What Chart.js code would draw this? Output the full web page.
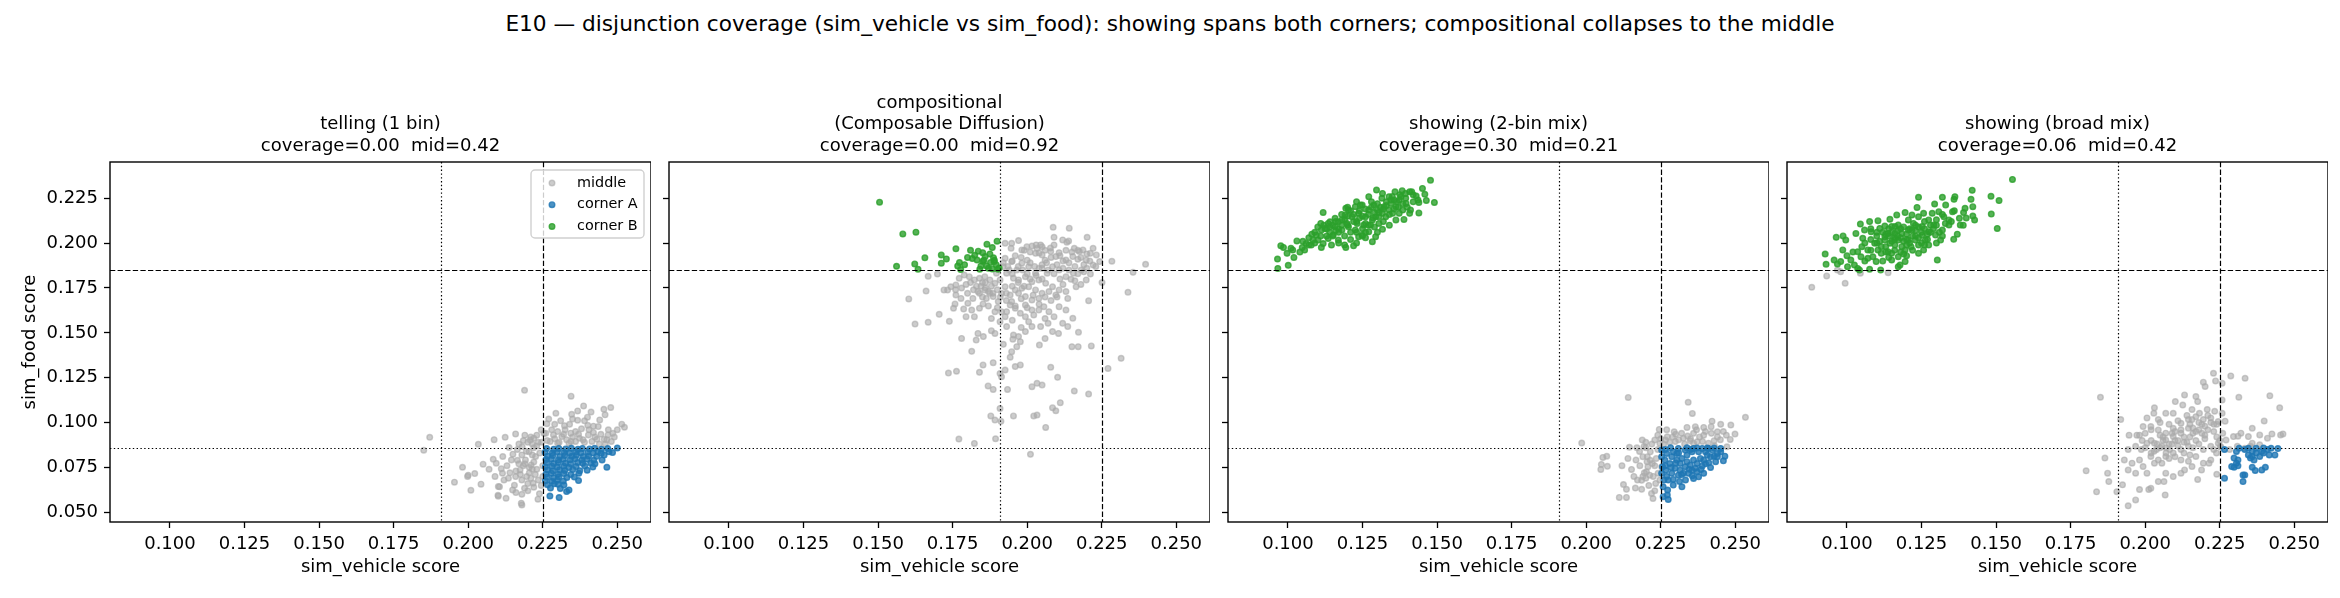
<!DOCTYPE html>
<html><head><meta charset="utf-8">
<script src="https://cdn.jsdelivr.net/npm/chart.js@4.4.0/dist/chart.umd.min.js"></script>
<style>
html,body{margin:0;padding:0;background:#fff;}
body{width:2340px;height:598px;position:relative;overflow:hidden;font-family:"DejaVu Sans",sans-serif;}
#suptitle{position:absolute;left:0;top:11px;width:2340px;text-align:center;font-size:21.67px;line-height:26px;color:#000;white-space:nowrap;}
.pane{position:absolute;top:0;height:598px;}
canvas{display:block;}
</style></head><body>
<div id="suptitle">E10 — disjunction coverage (sim_vehicle vs sim_food): showing spans both corners; compositional collapses to the middle</div>
<div class="pane" id="p0"><canvas id="c0"></canvas></div>
<div class="pane" id="p1"><canvas id="c1"></canvas></div>
<div class="pane" id="p2"><canvas id="c2"></canvas></div>
<div class="pane" id="p3"><canvas id="c3"></canvas></div>
<script>
// ---------- text / ticks ----------
const panelTitles = [
  ["telling (1 bin)", "coverage=0.00  mid=0.42"],
  ["compositional", "(Composable Diffusion)", "coverage=0.00  mid=0.92"],
  ["showing (2-bin mix)", "coverage=0.30  mid=0.21"],
  ["showing (broad mix)", "coverage=0.06  mid=0.42"]
];
const seriesNames = ["middle", "corner A", "corner B"];
const xLabel = "sim_vehicle score";
const yLabel = "sim_food score";
const xTicks = [0.100, 0.125, 0.150, 0.175, 0.200, 0.225, 0.250];
const yTicks = [0.050, 0.075, 0.100, 0.125, 0.150, 0.175, 0.200, 0.225];
const xLimits = [0.0799, 0.2613];
const yLimits = [0.0446, 0.2452];
const vLines = [0.191, 0.225];   // dotted, dashed
const hLines = [0.185, 0.086];   // dashed, dotted

// ---------- data: telling (1 bin) ----------
const tellingMiddle = [
[.2189,.1180],[.2345,.1147],[.1871,.0918],[.1851,.0846],[.2034,.0879],[.1954,.0668],[.1981,.0751],[.2009,.0623],[.2000,.0707],[.2022,.0716],[.2043,.0657],[.2050,.0768],[.2087,.0905],[.2100,.0595],[.2127,.0578],[.2178,.0551],[.2180,.0541],[.2124,.0918],[.2159,.0937],[.2137,.0861],[.2150,.0824],
[.2084,.0795],[.2094,.0773],[.2111,.0743],[.2101,.0644],[.2101,.0590],[.2116,.0811],[.1998,.0700],
[.2264,.0994],[.2294,.1052],[.2323,.0983],[.2347,.1046],[.2387,.1093],[.2367,.1065],[.2412,.1059],[.2455,.1074],[.2478,.1084],[.2459,.1043],[.2515,.0991],[.2524,.0974],[.2401,.0985],[.2367,.1013],[.2441,.1015],[.2436,.0978],[.2469,.0931],[.2456,.0907],[.2286,.0931],[.2254,.0941],[.2208,.0903],[.2220,.0913],[.2246,.0890],[.2314,.0922],[.2344,.0941],[.2373,.0913],[.2403,.0931],[.2432,.0907],[.2338,.0885],[.2300,.0885],
[.2181,.0866],[.2192,.0792],[.2174,.0736],[.2196,.0699],[.2159,.0699],[.2218,.0662],[.2189,.0634],[.2155,.0651],[.2234,.0573],[.2239,.0603],[.2211,.0764],[.2226,.0811],[.2204,.0838],[.2145,.0792],[.2115,.0718],[.2105,.0643],[.2149,.0625],
[.2230,.0870],[.2215,.0880],[.2200,.0890],[.2185,.0900],[.2170,.0880],[.2165,.0850],[.2195,.0840],[.2215,.0820],[.2220,.0780],[.2205,.0750],[.2185,.0760],[.2170,.0770],[.2230,.0740],[.2225,.0710],[.2210,.0690],[.2235,.0680],[.2220,.0640],[.2200,.0660],[.2180,.0680],[.2245,.0650],[.2250,.0700],[.2250,.0760],[.2240,.0830],[.2265,.0900],[.2280,.0960],[.2300,.0950],[.2320,.0935],[.2330,.0905],[.2360,.0895],[.2360,.0950],[.2380,.0965],[.2390,.0890],[.2420,.0945],[.2415,.0895],[.2440,.0880],[.2460,.0880],[.2480,.0895],[.2490,.0920],[.2470,.0960],[.2340,.0990],[.2310,.1010],[.2270,.1020],[.2400,.1030],[.2350,.0920],
[.2070,.0740],[.2090,.0700],[.2120,.0680],[.2130,.0760],[.2140,.0720],[.2160,.0730],[.2175,.0710],[.2165,.0790],[.2180,.0820],[.2190,.0770],[.2205,.0720],[.2215,.0740],[.2220,.0860],[.2235,.0890],[.2210,.0920],[.2190,.0930],[.2230,.0930],[.2245,.0960],[.2260,.0940],[.2275,.0895],[.2290,.0910],[.2305,.0890],[.2325,.0960],[.2345,.0895],[.2370,.0935],[.2385,.0905],[.2405,.0960],[.2425,.0920],[.2445,.0935],[.2465,.0905],[.2485,.0940],[.2500,.0960],[.2420,.0980],[.2390,.1010],[.2350,.1020],[.2290,.0990],[.2180,.0600],[.2200,.0620],[.2160,.0610],[.2135,.0690]
];
const tellingCornerA = [
[.2274,.0591],[.2305,.0582],[.2330,.0616],[.2338,.0625],[.2289,.0659],[.2370,.0677],[.2465,.0751],[.2449,.0792],[.2484,.0833],[.2500,.0858],[.2425,.0770],[.2435,.0837],
[.2263,.0855],[.2287,.0852],[.2304,.0856],[.2327,.0853],[.2346,.0857],[.2368,.0851],[.2383,.0856],[.2407,.0853],[.2424,.0857],[.2447,.0852],[.2468,.0855],
[.2258,.0834],[.2282,.0831],[.2299,.0838],[.2322,.0833],[.2341,.0830],[.2362,.0836],[.2378,.0832],[.2401,.0835],[.2419,.0831],[.2446,.0829],[.2472,.0838],
[.2266,.0813],[.2284,.0817],[.2307,.0811],[.2324,.0816],[.2347,.0812],[.2363,.0818],[.2386,.0811],[.2404,.0814],[.2431,.0812],[.2456,.0819],
[.2261,.0794],[.2279,.0797],[.2302,.0791],[.2319,.0796],[.2342,.0793],[.2358,.0798],[.2381,.0792],[.2399,.0796],[.2421,.0790],
[.2264,.0776],[.2286,.0772],[.2303,.0778],[.2326,.0774],[.2344,.0771],[.2367,.0777],[.2384,.0773],[.2411,.0775],
[.2259,.0754],[.2281,.0757],[.2299,.0752],[.2321,.0756],[.2338,.0750],[.2362,.0755],[.2391,.0758],[.2418,.0752],
[.2266,.0736],[.2284,.0731],[.2306,.0737],[.2324,.0733],[.2351,.0738],[.2374,.0732],[.2399,.0735],
[.2261,.0714],[.2279,.0718],[.2301,.0712],[.2321,.0716],[.2344,.0711],[.2371,.0717],
[.2264,.0696],[.2286,.0692],[.2304,.0698],[.2331,.0694],[.2356,.0697],
[.2259,.0676],[.2281,.0673],[.2299,.0679],[.2319,.0674],
[.2266,.0654],[.2301,.0657],[.2321,.0652],[.2276,.0636],[.2309,.0633]
];
const tellingCornerB = [];

// ---------- data: compositional ----------
const compMiddle = [
[.2087,.2088],[.2141,.2083],[.2090,.2032],[.2201,.2032],[.2119,.2018],[.2133,.2005],[.2139,.2012],[.2045,.1990],[.2078,.1973],[.2107,.1947],[.2158,.1971],[.2175,.1953],[.2187,.1962],[.2221,.1971],[.2232,.1934],[.2212,.1943],[.2016,.1984],[.2033,.1971],[.2050,.1980],[.1948,.1999],[.1971,.2014],[.1926,.1999],[.1946,.1971],[.1982,.1962],[.1999,.1980],[.2028,.1943],[.2050,.1934],[.2079,.1953],[.2096,.1925],[.2130,.1906],[.2153,.1925],[.2170,.1910],[.2198,.1906],[.2221,.1878],[.2243,.1897],[.2284,.1899],[.2397,.1882],[.2355,.1837],[.2338,.1726],[.2251,.1780],[.2198,.1795],[.2212,.1828],[.2181,.1850],[.2155,.1832],[.2130,.1813],[.2147,.1798],[.2107,.1850],[.2085,.1869],[.2067,.1832],[.2050,.1860],[.2028,.1832],[.2005,.1869],[.1982,.1888],[.1965,.1850],[.1948,.1897],[.1926,.1915],[.1920,.1869],[.1931,.1832],[.1954,.1804],[.1971,.1795],[.1994,.1813],[.2016,.1785],[.2039,.1795],[.2062,.1776],[.2085,.1757],[.2107,.1739],[.2130,.1730],[.2164,.1757],[.2136,.1692],[.2206,.1679],[.2096,.1711],[.2073,.1730],[.2050,.1720],[.2028,.1739],[.2005,.1757],[.1982,.1748],[.1960,.1739],[.1943,.1711],[.1926,.1757],[.1909,.1795],[.1892,.1776],[.1875,.1795],[.1858,.1813],[.1840,.1804],[.1823,.1795],[.1806,.1813],[.1789,.1822],[.1772,.1804],[.1761,.1767],[.1744,.1757],[.1733,.1739],[.1721,.1739],[.1699,.1828],[.1668,.1815],[.1661,.1733],[.1603,.1689],[.1624,.1549],[.1668,.1559],[.1705,.1603],[.1739,.1564],[.1758,.1661],[.1753,.1637],[.1787,.1633],[.1795,.1590],[.1814,.1627],[.1823,.1590],[.1840,.1637],[.1852,.1661],[.1863,.1692],[.1875,.1720],[.1886,.1702],[.1903,.1674],[.1914,.1618],[.1926,.1590],[.1943,.1655],[.1960,.1637],[.1977,.1609],[.1994,.1590],[.2005,.1562],[.2022,.1600],[.2039,.1627],[.2056,.1646],[.2073,.1618],[.2090,.1590],[.2107,.1646],[.2130,.1627],[.2153,.1581],[.2136,.1535],[.2119,.1553],[.2085,.1507],[.2070,.1553],[.2045,.1535],[.2016,.1535],[.1994,.1507],[.1971,.1479],[.1954,.1488],[.1931,.1535],[.1909,.1562],[.1892,.1497],[.1880,.1512],[.1853,.1479],[.1835,.1497],[.1829,.1460],[.1780,.1469],[.1814,.1397],[.1920,.1436],[.1952,.1464],[.1977,.1451],[.1965,.1423],[.1948,.1395],[.1943,.1364],[.1977,.1321],[.1960,.1312],[.1926,.1293],[.1886,.1334],[.1852,.1321],[.1840,.1280],[.1763,.1286],[.1736,.1276],[.1869,.1204],[.1886,.1185],[.1934,.1185],[.2016,.1200],[.2033,.1219],[.2050,.1209],[.2079,.1308],[.2102,.1252],[.2041,.1432],[.2060,.1468],[.2158,.1176],[.2206,.1159],[.2150,.1423],[.2171,.1423],[.2215,.1427],[.2172,.1503],[.2105,.1497],[.2315,.1358],[.2271,.1302],[.1909,.1079],[.1954,.1037],[.1878,.1037],[.1892,.1014],[.1912,.1007],[.2022,.1037],[.2033,.1042],[.2085,.1083],[.2096,.1066],[.2111,.1111],[.2062,.0973],[.1771,.0908],[.1823,.0884],[.1894,.0910],[.2011,.0823],[.1914,.1256],[.1909,.1274],[.1971,.1720],[.1994,.1702],[.2016,.1683],[.2039,.1692],[.1948,.1674],[.1931,.1618],[.1994,.1655],[.2016,.1627],[.1892,.1618],[.1914,.1720],[.1897,.1832],[.1858,.1739],[.1835,.1730],[.1818,.1692],[.1801,.1665],[.1778,.1692],[.1761,.1711],
[.1990,.1960],[.2010,.1950],[.2040,.1945],[.2060,.1905],[.2000,.1905],[.1960,.1930],[.2025,.1870],[.2065,.1890],[.2100,.1880],[.2120,.1900],[.2040,.1860],[.1985,.1850],[.1950,.1830],[.2000,.1830],[.1935,.1870],[.2150,.1950],[.2180,.1920],[.2190,.1880],[.2160,.1870],[.2200,.1860],[.1845,.1760],[.1860,.1750],[.1870,.1730],[.1885,.1720],[.1830,.1760],[.1850,.1780],[.1810,.1780],[.1795,.1770],
[.1820,.1740],[.1840,.1720],[.1860,.1780],[.1880,.1760],[.1900,.1740],[.1910,.1700],[.1930,.1720],[.1950,.1760],[.1970,.1780],[.1990,.1760],[.2010,.1800],[.2030,.1820],[.2050,.1800],[.2070,.1850],[.2090,.1830],[.2110,.1800],[.2120,.1860],[.2140,.1850],[.2170,.1830],[.2190,.1840],[.2210,.1900],[.2230,.1870],[.2200,.1940],[.2170,.1960],[.2130,.1960],[.2090,.1990],[.2060,.1960],[.2030,.1990],[.1980,.1920],[.1950,.1900],[.1920,.1890],[.1940,.1850],[.1970,.1870],[.2010,.1890],[.2050,.1880],[.2080,.1920],[.2110,.1930],[.2140,.1890],[.1980,.1690],[.2020,.1710],[.2060,.1700],[.2080,.1680],[.1960,.1650],[.1930,.1680],[.1870,.1650],[.1850,.1700],[.1800,.1720],[.1780,.1750],[.1760,.1740],[.1900,.1640],[.2000,.1640],[.2040,.1660],[.2060,.1580],[.1950,.1570],[.1880,.1580],[.1980,.1530],[.2100,.1700],[.2120,.1770],[.2160,.1790],[.2180,.1770]
];
const compCornerA = [];
const compCornerB = [
[.1505,.2228],[.1583,.2051],[.1627,.2061],[.1562,.1871],[.1623,.1884],[.1634,.1854],[.1657,.1918],[.1712,.1934],[.1712,.1888],[.1729,.1912],[.1761,.1968],[.1767,.1873],[.1773,.1892],[.1777,.1853],[.1810,.1960],[.1816,.1914],[.1836,.1955],[.1851,.1947],[.1865,.1994],[.1883,.1975],[.1899,.2011],[.1887,.1918],[.1851,.1899],[.1841,.1855],[.1864,.1873],[.1877,.1892],[.1896,.1879],[.1906,.1862],[.1832,.1906],[.1870,.1860],[.1824,.1932],[.1859,.1925],[.1889,.1897],[.1902,.1855],[.1845,.1873],[.1883,.1856],[.1875,.1940],[.1890,.1905],[.1855,.1905],[.1800,.1920],[.1790,.1880]
];

// ---------- data: showing (2-bin mix) ----------
const show2Middle = [
[.2141,.1140],[.2342,.1113],[.2356,.1051],[.2534,.1029],[.1985,.0886],[.2145,.0862],[.2056,.0806],[.2069,.0812],[.2051,.0767],[.2049,.0739],[.2071,.0756],[.2152,.0739],[.2179,.0839],[.2188,.0903],[.2194,.0867],[.2215,.0837],[.2204,.0782],[.2207,.0754],[.2222,.0772],[.2230,.0903],[.2240,.0930],[.2245,.0962],[.2266,.0903],[.2272,.0921],[.2295,.0949],[.2299,.0895],[.2338,.0973],[.2366,.0977],[.2394,.0973],[.2422,.1008],[.2451,.0990],[.2485,.0986],[.2499,.0936],[.2483,.0906],[.2472,.0865],[.2440,.0949],[.2419,.0977],[.2429,.0899],[.2394,.0930],[.2360,.0940],[.2372,.0893],[.2326,.0912],[.2349,.0899],[.2125,.0655],[.2135,.0628],[.2111,.0583],[.2135,.0583],[.2165,.0635],[.2172,.0680],[.2186,.0678],[.2186,.0628],[.2213,.0707],[.2219,.0605],[.2224,.0577],[.2233,.0661],[.2202,.0726],[.2190,.0810],[.2167,.0791],[.2247,.0884],[.2253,.0754],[.2247,.0680],[.2241,.0717],
[.2205,.0810],[.2215,.0790],[.2230,.0760],[.2225,.0700],[.2195,.0720],[.2200,.0690],[.2235,.0800],[.2240,.0850],[.2220,.0880],[.2200,.0860],[.2260,.0880],[.2280,.0890],[.2310,.0905],[.2330,.0880],[.2360,.0885],[.2390,.0895],[.2410,.0885],[.2450,.0905],[.2300,.0935],[.2340,.0925],[.2420,.0940],[.2460,.0950],
[.2180,.0760],[.2190,.0700],[.2210,.0650],[.2230,.0620],[.2160,.0700],[.2170,.0860],[.2200,.0890],[.2250,.0910],[.2290,.0920],[.2320,.0940],[.2350,.0910],[.2380,.0920],[.2400,.0950],[.2440,.0920],[.2470,.0930],[.2430,.0870],[.2370,.0960],[.2270,.0960],[.2140,.0800],[.2120,.0760]
];
const show2CornerA = [
[.2283,.0860],[.2309,.0856],[.2338,.0860],[.2372,.0858],[.2406,.0859],[.2429,.0858],[.2451,.0837],[.2465,.0813],[.2460,.0787],[.2440,.0828],[.2417,.0810],[.2394,.0791],[.2372,.0772],[.2385,.0739],[.2356,.0704],[.2333,.0680],[.2313,.0672],[.2292,.0683],[.2273,.0624],[.2275,.0572],[.2258,.0642],[.2261,.0680],[.2253,.0717],[.2256,.0754],[.2264,.0791],[.2270,.0828],[.2287,.0810],[.2304,.0791],[.2321,.0800],[.2338,.0819],[.2355,.0837],[.2377,.0837],[.2400,.0837],[.2423,.0847],[.2298,.0745],[.2315,.0735],[.2332,.0754],[.2349,.0763],[.2366,.0745],[.2287,.0717],[.2309,.0707],[.2326,.0717],[.2343,.0717],[.2281,.0772],[.2360,.0791],[.2383,.0800],[.2406,.0819],[.2429,.0813],[.2434,.0782],[.2411,.0776],[.2389,.0758],[.2372,.0726],[.2355,.0735],[.2338,.0782],[.2315,.0772],[.2292,.0837],[.2275,.0680],[.2267,.0735],[.2304,.0828],[.2253,.0810],[.2253,.0847],[.2332,.0847],[.2360,.0856],[.2389,.0856],[.2451,.0856],[.2417,.0750],[.2394,.0717],[.2360,.0689],[.2377,.0698],[.2321,.0642],[.2292,.0652],[.2272,.0596],[.2258,.0587],
[.2265,.0850],[.2300,.0775],[.2320,.0710],[.2345,.0740],[.2270,.0700],[.2285,.0750],[.2400,.0770],[.2350,.0850],[.2410,.0855],[.2440,.0810],[.2310,.0830],[.2265,.0760]
];
const show2CornerB = [
[.1478,.2350],[.1491,.2227],[.1451,.2305],[.1459,.2272],[.1464,.2238],[.1439,.2227],[.1439,.2168],[.1411,.2184],[.1408,.2166],[.1389,.2132],[.1430,.2262],[.1408,.2286],[.1383,.2292],[.1359,.2286],[.1297,.2296],[.1317,.2277],[.1339,.2259],[.1373,.2240],[.1396,.2221],[.1362,.2203],[.1339,.2184],[.1317,.2166],[.1294,.2147],[.1271,.2184],[.1249,.2212],[.1226,.2203],[.1203,.2184],[.1192,.2156],[.1181,.2129],[.1215,.2147],[.1237,.2166],[.1260,.2147],[.1283,.2129],[.1305,.2110],[.1317,.2077],[.1294,.2036],[.1283,.2008],[.1249,.2045],[.1226,.2073],[.1203,.2091],[.1181,.2073],[.1158,.2091],[.1135,.2110],[.1118,.2171],[.1112,.2073],[.1095,.2045],[.1084,.2017],[.1101,.2017],[.1118,.1998],[.1135,.2026],[.1152,.2045],[.1169,.2017],[.1146,.1989],[.1112,.1976],[.1194,.1976],[.1220,.1985],[.1237,.2036],[.1271,.2064],[.1305,.2147],[.1328,.2147],[.1351,.2166],[.1362,.2129],[.1373,.2166],[.1385,.2184],[.1271,.2259],[.1288,.2212],[.1243,.2212],[.1194,.2194],[.1158,.2138],[.1141,.2119],[.1124,.2082],[.1169,.2119],[.1198,.2110],[.1232,.2110],[.1254,.2101],[.1277,.2101],[.1300,.2184],[.1322,.2203],[.1345,.2221],[.1356,.2240],[.1379,.2259],[.1394,.2277],[.1415,.2286],[.1436,.2240],[.1048,.1976],[.1030,.2012],[.1010,.1971],[.0997,.1943],[.0976,.1985],[.0985,.1976],[.0965,.1911],[.0966,.1859],[.1001,.1876],[.1056,.1961],[.1016,.1961],[.1078,.1989],[.1061,.1998],
[.1170,.2060],[.1190,.2040],[.1210,.2020],[.1230,.2060],[.1250,.2080],[.1270,.2100],[.1290,.2170],[.1310,.2200],[.1280,.2230],[.1260,.2190],[.1240,.2140],[.1220,.2120],[.1200,.2150],[.1180,.2100],[.1160,.2070],[.1140,.2060],[.1130,.2040],[.1150,.2100],[.1210,.2180],[.1330,.2230],[.1350,.2260],[.1370,.2200],[.1320,.2120],[.1300,.2060],[.1340,.2100],[.1260,.2030],[.1190,.1990],[.1100,.2090],[.1080,.2050],[.1230,.2000],
[.1050,.2010],[.1070,.2030],[.1090,.2060],[.1110,.2040],[.1120,.2100],[.1140,.2090],[.1160,.2120],[.1170,.2080],[.1190,.2130],[.1200,.2100],[.1210,.2060],[.1220,.2160],[.1230,.2120],[.1240,.2180],[.1250,.2150],[.1260,.2110],[.1270,.2160],[.1280,.2200],[.1285,.2140],[.1300,.2220],[.1305,.2170],[.1315,.2250],[.1320,.2190],[.1330,.2210],[.1340,.2160],[.1345,.2240],[.1355,.2190],[.1365,.2230],[.1375,.2270],[.1385,.2220],[.1395,.2250],[.1400,.2200],[.1420,.2230],[.1420,.2270],[.1150,.2040],[.1130,.2080],[.1110,.2110],[.1180,.2160],[.1200,.2200],[.1230,.2230],[.1260,.2060],[.1290,.2090],[.1250,.2040],[.1170,.2000],[.1090,.2000],[.1070,.1990],[.1040,.1950],[.1020,.1920]
];

// ---------- data: showing (broad mix) ----------
const broadMiddle = [
[.0882,.1754],[.0932,.1817],[.0994,.1776],[.0979,.1841],[.1045,.1832],[.1138,.1835],[.0968,.1850],
[.1850,.1141],[.2229,.1275],[.2287,.1260],[.2335,.1247],[.2195,.1225],[.2236,.1232],[.2201,.1201],[.2258,.1219],[.2258,.1126],[.2314,.1141],[.2418,.1149],[.2451,.1082],[.2399,.1009],[.2359,.0968],[.2132,.1154],[.2170,.1145],[.2176,.1117],[.2157,.1073],[.2126,.1098],[.2101,.1117],[.2094,.1052],[.2069,.1052],[.2044,.1017],[.2031,.1082],[.2029,.1052],[.2006,.1026],[.1993,.0978],[.1981,.0930],[.2019,.0978],[.2044,.0959],[.2069,.0941],[.2094,.0968],[.2120,.0996],[.2145,.1017],[.2170,.1033],[.2195,.1017],[.2220,.1026],[.2245,.1006],[.2268,.1008],[.2258,.1052],[.2233,.1063],[.2208,.1073],[.2182,.1052],[.2157,.1017],[.2145,.0968],[.2120,.0941],[.2094,.0922],[.2069,.0903],[.2056,.0868],[.2038,.0850],[.2031,.0885],[.2019,.0811],[.2044,.0792],[.2069,.0811],[.2094,.0831],[.2120,.0792],[.2145,.0784],[.2170,.0811],[.2195,.0850],[.2220,.0868],[.2245,.0885],[.2271,.0903],[.2296,.0922],[.2321,.0941],[.2346,.0922],[.2384,.0931],[.2410,.0913],[.2454,.0931],[.2462,.0937],[.2220,.0792],[.2189,.0736],[.2176,.0683],[.2214,.0774],[.2239,.0831],[.2252,.0868],[.1918,.1017],[.1946,.0930],[.1972,.0930],[.2006,.0885],[.1968,.0868],[.1943,.0850],[.1930,.0792],[.1981,.0792],[.1993,.0755],[.2006,.0718],[.2031,.0774],[.2069,.0718],[.2094,.0699],[.2120,.0718],[.2044,.0671],[.2063,.0671],[.2019,.0634],[.2012,.0627],[.1981,.0627],[.1968,.0569],[.1943,.0536],[.1924,.0653],[.1905,.0615],[.1878,.0671],[.1874,.0718],[.1865,.0802],[.1802,.0731],[.1837,.0614],[.2067,.0597],[.2240,.0712],[.2254,.0863],[.2311,.0924],[.2359,.0885],[.2425,.0937],[.2384,.0876],[.2353,.0868],[.2334,.0857],[.2309,.0868],[.2283,.0850],[.2195,.0774],[.2157,.0755],[.2132,.0736],[.2145,.0868],[.2120,.0850],[.2082,.0850],[.2056,.0774],[.1987,.0850],[.1968,.0718],[.1956,.0774],[.1943,.0736],
[.2100,.0900],[.2130,.0920],[.2160,.0940],[.2180,.0960],[.2200,.0980],[.2140,.0890],[.2110,.0870],[.2080,.0880],[.2060,.0900],[.2170,.0900],[.2200,.0930],[.2230,.0950],[.2240,.0990],[.2150,.0990],[.2100,.0950],[.2050,.0930],[.2020,.0900],[.2080,.0800],[.2030,.0840],
[.2050,.0860],[.2070,.0860],[.2090,.0880],[.2110,.0900],[.2130,.0890],[.2150,.0920],[.2170,.0950],[.2190,.0940],[.2210,.0960],[.2230,.0990],[.2220,.1000],[.2190,.0990],[.2160,.0970],[.2120,.0960],[.2090,.0940],[.2060,.0920],[.2040,.0880],[.2000,.0860],[.2020,.0830],[.2070,.0830],[.2100,.0810],[.2130,.0830],[.2160,.0860],[.2180,.0880],[.2200,.0910],[.2240,.0920],[.2260,.0940],[.2210,.1040],[.2180,.1000],[.2140,.1040],[.2110,.1010],[.2080,.0990],[.2050,.1000],[.2020,.0960],[.2000,.0940],[.1990,.0900],[.2150,.0820],[.2230,.0850],[.2250,.0900]
];
const broadCornerA = [
[.2266,.0850],[.2266,.0690],[.2298,.0802],[.2306,.0774],[.2315,.0857],[.2311,.0759],[.2298,.0751],[.2328,.0708],[.2334,.0708],[.2328,.0671],[.2359,.0751],[.2369,.0733],[.2391,.0736],[.2403,.0751],[.2346,.0857],[.2359,.0839],[.2372,.0831],[.2384,.0811],[.2397,.0858],[.2410,.0850],[.2422,.0857],[.2435,.0820],[.2445,.0855],[.2359,.0811],[.2346,.0820],[.2334,.0850],[.2372,.0857],[.2391,.0839],[.2365,.0792],[.2353,.0802],[.2397,.0831],[.2416,.0820],[.2306,.0839],[.2311,.0792],[.2290,.0755]
];
const broadCornerB = [
[.1555,.2355],[.1483,.2261],[.1510,.2237],[.1504,.2082],[.1484,.2162],[.1420,.2294],[.1416,.2244],[.1422,.2203],[.1422,.2151],[.1428,.2129],[.1396,.2194],[.1391,.2170],[.1377,.2138],[.1380,.2101],[.1359,.2244],[.1362,.2259],[.1331,.2212],[.1320,.2255],[.1294,.2218],[.1240,.2255],[.1235,.2199],[.1195,.2170],[.1167,.2157],[.1144,.2133],[.1150,.2092],[.1172,.2101],[.1206,.2129],[.1218,.2073],[.1252,.2092],[.1274,.2129],[.1286,.2166],[.1308,.2175],[.1325,.2147],[.1342,.2129],[.1354,.2175],[.1342,.2101],[.1358,.2021],[.1320,.2073],[.1314,.2017],[.1297,.2045],[.1303,.1906],[.1274,.1989],[.1263,.2017],[.1257,.1962],[.1240,.1943],[.1229,.2017],[.1206,.2017],[.1195,.1962],[.1184,.1980],[.1172,.2017],[.1161,.2054],[.1138,.2054],[.1127,.2017],[.1115,.1980],[.1104,.1962],[.1093,.1999],[.1087,.1924],[.1098,.1897],[.1115,.1943],[.1150,.1943],[.1172,.1924],[.1195,.1897],[.1178,.1878],[.1150,.1906],[.1138,.1952],[.1070,.1962],[.1070,.1915],[.1047,.1924],[.1036,.1952],[.1013,.1906],[.1025,.1878],[.1036,.1859],[.1002,.1869],[.0979,.1897],[.0968,.1884],[.0957,.1906],[.0927,.1939],[.0930,.1882],[.0964,.2032],[.0987,.2040],[.0986,.1962],[.1045,.2106],[.1076,.2120],[.1104,.2125],[.1081,.2064],[.1053,.2027],[.1030,.2054],[.1059,.2073],[.1110,.2082],[.1127,.2036],[.1144,.1999],[.1161,.1989],[.1076,.1854],[.1113,.1850],[.1172,.1869],[.1042,.1850],[.0996,.2017],[.1161,.2092],[.1184,.2054],[.1206,.2073],[.1223,.2110],[.1252,.2045],[.1274,.2064],[.1291,.2101],[.1240,.2147],[.1257,.2166],[.1218,.2157],[.1127,.2095],
[.1140,.2040],[.1160,.2020],[.1180,.2030],[.1200,.2050],[.1190,.2090],[.1210,.2000],[.1230,.2040],[.1250,.2000],[.1170,.2070],[.1150,.2010],[.1130,.1980],[.1190,.1940],[.1215,.1980],[.1240,.2090],[.1260,.2120],[.1280,.2060],[.1300,.2100],[.1100,.2000],[.1120,.2060],[.1080,.1960],
[.1060,.2000],[.1080,.2020],[.1100,.2040],[.1110,.2010],[.1130,.2050],[.1150,.2060],[.1160,.2030],[.1170,.2040],[.1180,.2080],[.1190,.2010],[.1200,.2020],[.1210,.2080],[.1220,.2040],[.1230,.2070],[.1240,.2030],[.1250,.2060],[.1260,.2080],[.1270,.2050],[.1280,.2100],[.1290,.2080],[.1300,.2130],[.1310,.2060],[.1320,.2160],[.1330,.2110],[.1350,.2120],[.1360,.2180],[.1370,.2050],[.1390,.2100],[.1400,.2140],[.1130,.1950],[.1160,.1960],[.1180,.1950],[.1200,.1930],[.1220,.1960],[.1240,.1990],[.1260,.1990],[.1050,.1980],[.1060,.1900],[.1020,.1950],[.1000,.1930],[.1120,.1900],[.1140,.1920],[.1200,.1990],[.1140,.2080],[.1100,.2060],[.1080,.2080],[.1230,.2100],[.1270,.2020],[.1300,.2000],[.1320,.2040]
];

const panelSeries = [
  [tellingMiddle, tellingCornerA, tellingCornerB],
  [compMiddle, compCornerA, compCornerB],
  [show2Middle, show2CornerA, show2CornerB],
  [broadMiddle, broadCornerA, broadCornerB]
];

// ---------- styles / layout ----------
const seriesFill = ["rgba(170,170,170,0.6)", "rgba(31,119,180,0.8)", "rgba(44,160,44,0.8)"];
const FONT = '"DejaVu Sans", sans-serif';
const layout = { areaLeft: [110, 669, 1228, 1787], areaWidth: 533, areaTop: 162, areaBottom: 522, H: 598, rightPad: 8 };
const markerRadius = 2.8, markerEdge = 1.4;

Chart.defaults.color = '#000';
Chart.defaults.font.family = FONT;

const refLinesPlugin = {
  id: 'refLines',
  afterDatasetsDraw(chart) {
    const {ctx, chartArea: a, scales: {x, y}} = chart;
    ctx.save();
    ctx.beginPath(); ctx.rect(a.left, a.top, a.right - a.left, a.bottom - a.top); ctx.clip();
    ctx.strokeStyle = '#000'; ctx.lineWidth = 1.2;
    const styles = [[1.4, 2.4], [5.3, 2.3]];
    vLines.forEach((v, i) => {
      ctx.setLineDash(styles[i]);
      const px = Math.round(x.getPixelForValue(v)) + 0.5;
      ctx.beginPath(); ctx.moveTo(px, a.top); ctx.lineTo(px, a.bottom); ctx.stroke();
    });
    hLines.forEach((v, i) => {
      ctx.setLineDash(styles[1 - i]);
      const py = Math.round(y.getPixelForValue(v)) + 0.5;
      ctx.beginPath(); ctx.moveTo(a.left, py); ctx.lineTo(a.right, py); ctx.stroke();
    });
    ctx.restore();
  },
  afterDraw(chart) {
    const {ctx, chartArea: a} = chart;
    ctx.save();
    ctx.strokeStyle = '#000'; ctx.lineWidth = 1.4; ctx.setLineDash([]);
    ctx.strokeRect(a.left, a.top, a.right - a.left, a.bottom - a.top);
    ctx.restore();
  }
};

const boxLegendPlugin = {
  id: 'boxLegend',
  afterDraw(chart, args, opts) {
    if (!opts.show) return;
    const {ctx, chartArea: a} = chart;
    const w = 113, h = 68;
    const left = a.right - 7 - w, top = a.top + 8;
    ctx.save();
    ctx.fillStyle = 'rgba(255,255,255,0.8)';
    ctx.strokeStyle = '#d0d0d0'; ctx.lineWidth = 1.4;
    ctx.beginPath();
    ctx.roundRect(left, top, w, h, 4);
    ctx.fill(); ctx.stroke();
    chart.data.datasets.forEach((ds, i) => {
      const cy = top + 13 + i * 21.7;
      ctx.beginPath();
      ctx.arc(left + 21, cy, markerRadius, 0, Math.PI * 2);
      ctx.fillStyle = ds.backgroundColor; ctx.fill();
      ctx.lineWidth = markerEdge; ctx.strokeStyle = ds.borderColor; ctx.stroke();
      ctx.fillStyle = '#000';
      ctx.font = '14.4px ' + FONT;
      ctx.textBaseline = 'middle'; ctx.textAlign = 'left';
      ctx.fillText(ds.label, left + 46, cy);
    });
    ctx.restore();
  }
};

function makeChart(k) {
  const yW = k === 0 ? 110 : 20;
  const W = yW + layout.areaWidth + layout.rightPad;
  const pane = document.getElementById('p' + k);
  pane.style.left = (layout.areaLeft[k] - yW) + 'px';
  const canvas = document.getElementById('c' + k);
  canvas.width = W; canvas.height = layout.H;
  canvas.style.width = W + 'px'; canvas.style.height = layout.H + 'px';
  const nLines = panelTitles[k].length;
  const tickFont = {family: FONT, size: 18};
  const datasets = seriesNames.map((name, i) => ({
    label: name,
    data: panelSeries[k][i],
    backgroundColor: seriesFill[i],
    borderColor: seriesFill[i],
    borderWidth: markerEdge,
    pointRadius: markerRadius,
    pointHoverRadius: markerRadius,
    order: 3 - i
  }));
  return new Chart(canvas, {
    type: 'scatter',
    data: { datasets },
    plugins: [refLinesPlugin, boxLegendPlugin],
    options: {
      responsive: false,
      animation: false,
      devicePixelRatio: 1,
      layout: { padding: 0, autoPadding: false },
      plugins: {
        legend: { display: false },
        tooltip: { enabled: false },
        title: {
          display: true, text: panelTitles[k], color: '#000', fullSize: false,
          font: {family: FONT, size: 18, weight: 'normal', lineHeight: 1.2},
          padding: {top: layout.areaTop - 5 - nLines * 21.6, bottom: 5}
        },
        boxLegend: { show: k === 0 }
      },
      scales: {
        x: {
          type: 'linear', position: 'bottom', min: xLimits[0], max: xLimits[1],
          afterBuildTicks: s => { s.ticks = xTicks.map(v => ({value: v})); },
          afterFit: s => { s.height = layout.H - layout.areaBottom; },
          grid: { display: true, drawOnChartArea: false, drawTicks: true, tickLength: 6, tickWidth: 1.3, tickColor: '#000' },
          border: { display: false },
          ticks: { padding: 6, color: '#000', font: tickFont, maxRotation: 0, autoSkip: false, callback: v => Number(v).toFixed(3) },
          title: { display: true, text: xLabel, color: '#000', font: tickFont, padding: {top: 19.5, bottom: 19.5} }
        },
        y: {
          type: 'linear', position: 'left', min: yLimits[0], max: yLimits[1],
          afterBuildTicks: s => { s.ticks = yTicks.map(v => ({value: v})); },
          afterFit: s => { s.width = yW; },
          grid: { display: true, drawOnChartArea: false, drawTicks: true, tickLength: 6, tickWidth: 1.3, tickColor: '#000' },
          border: { display: false },
          ticks: { display: k === 0, padding: 6, color: '#000', font: tickFont, autoSkip: false, callback: v => Number(v).toFixed(3) },
          title: { display: k === 0, text: yLabel, color: '#000', font: tickFont, padding: {top: 19.2, bottom: 19.2} }
        }
      }
    }
  });
}
[0, 1, 2, 3].forEach(makeChart);
</script>
</body></html>
